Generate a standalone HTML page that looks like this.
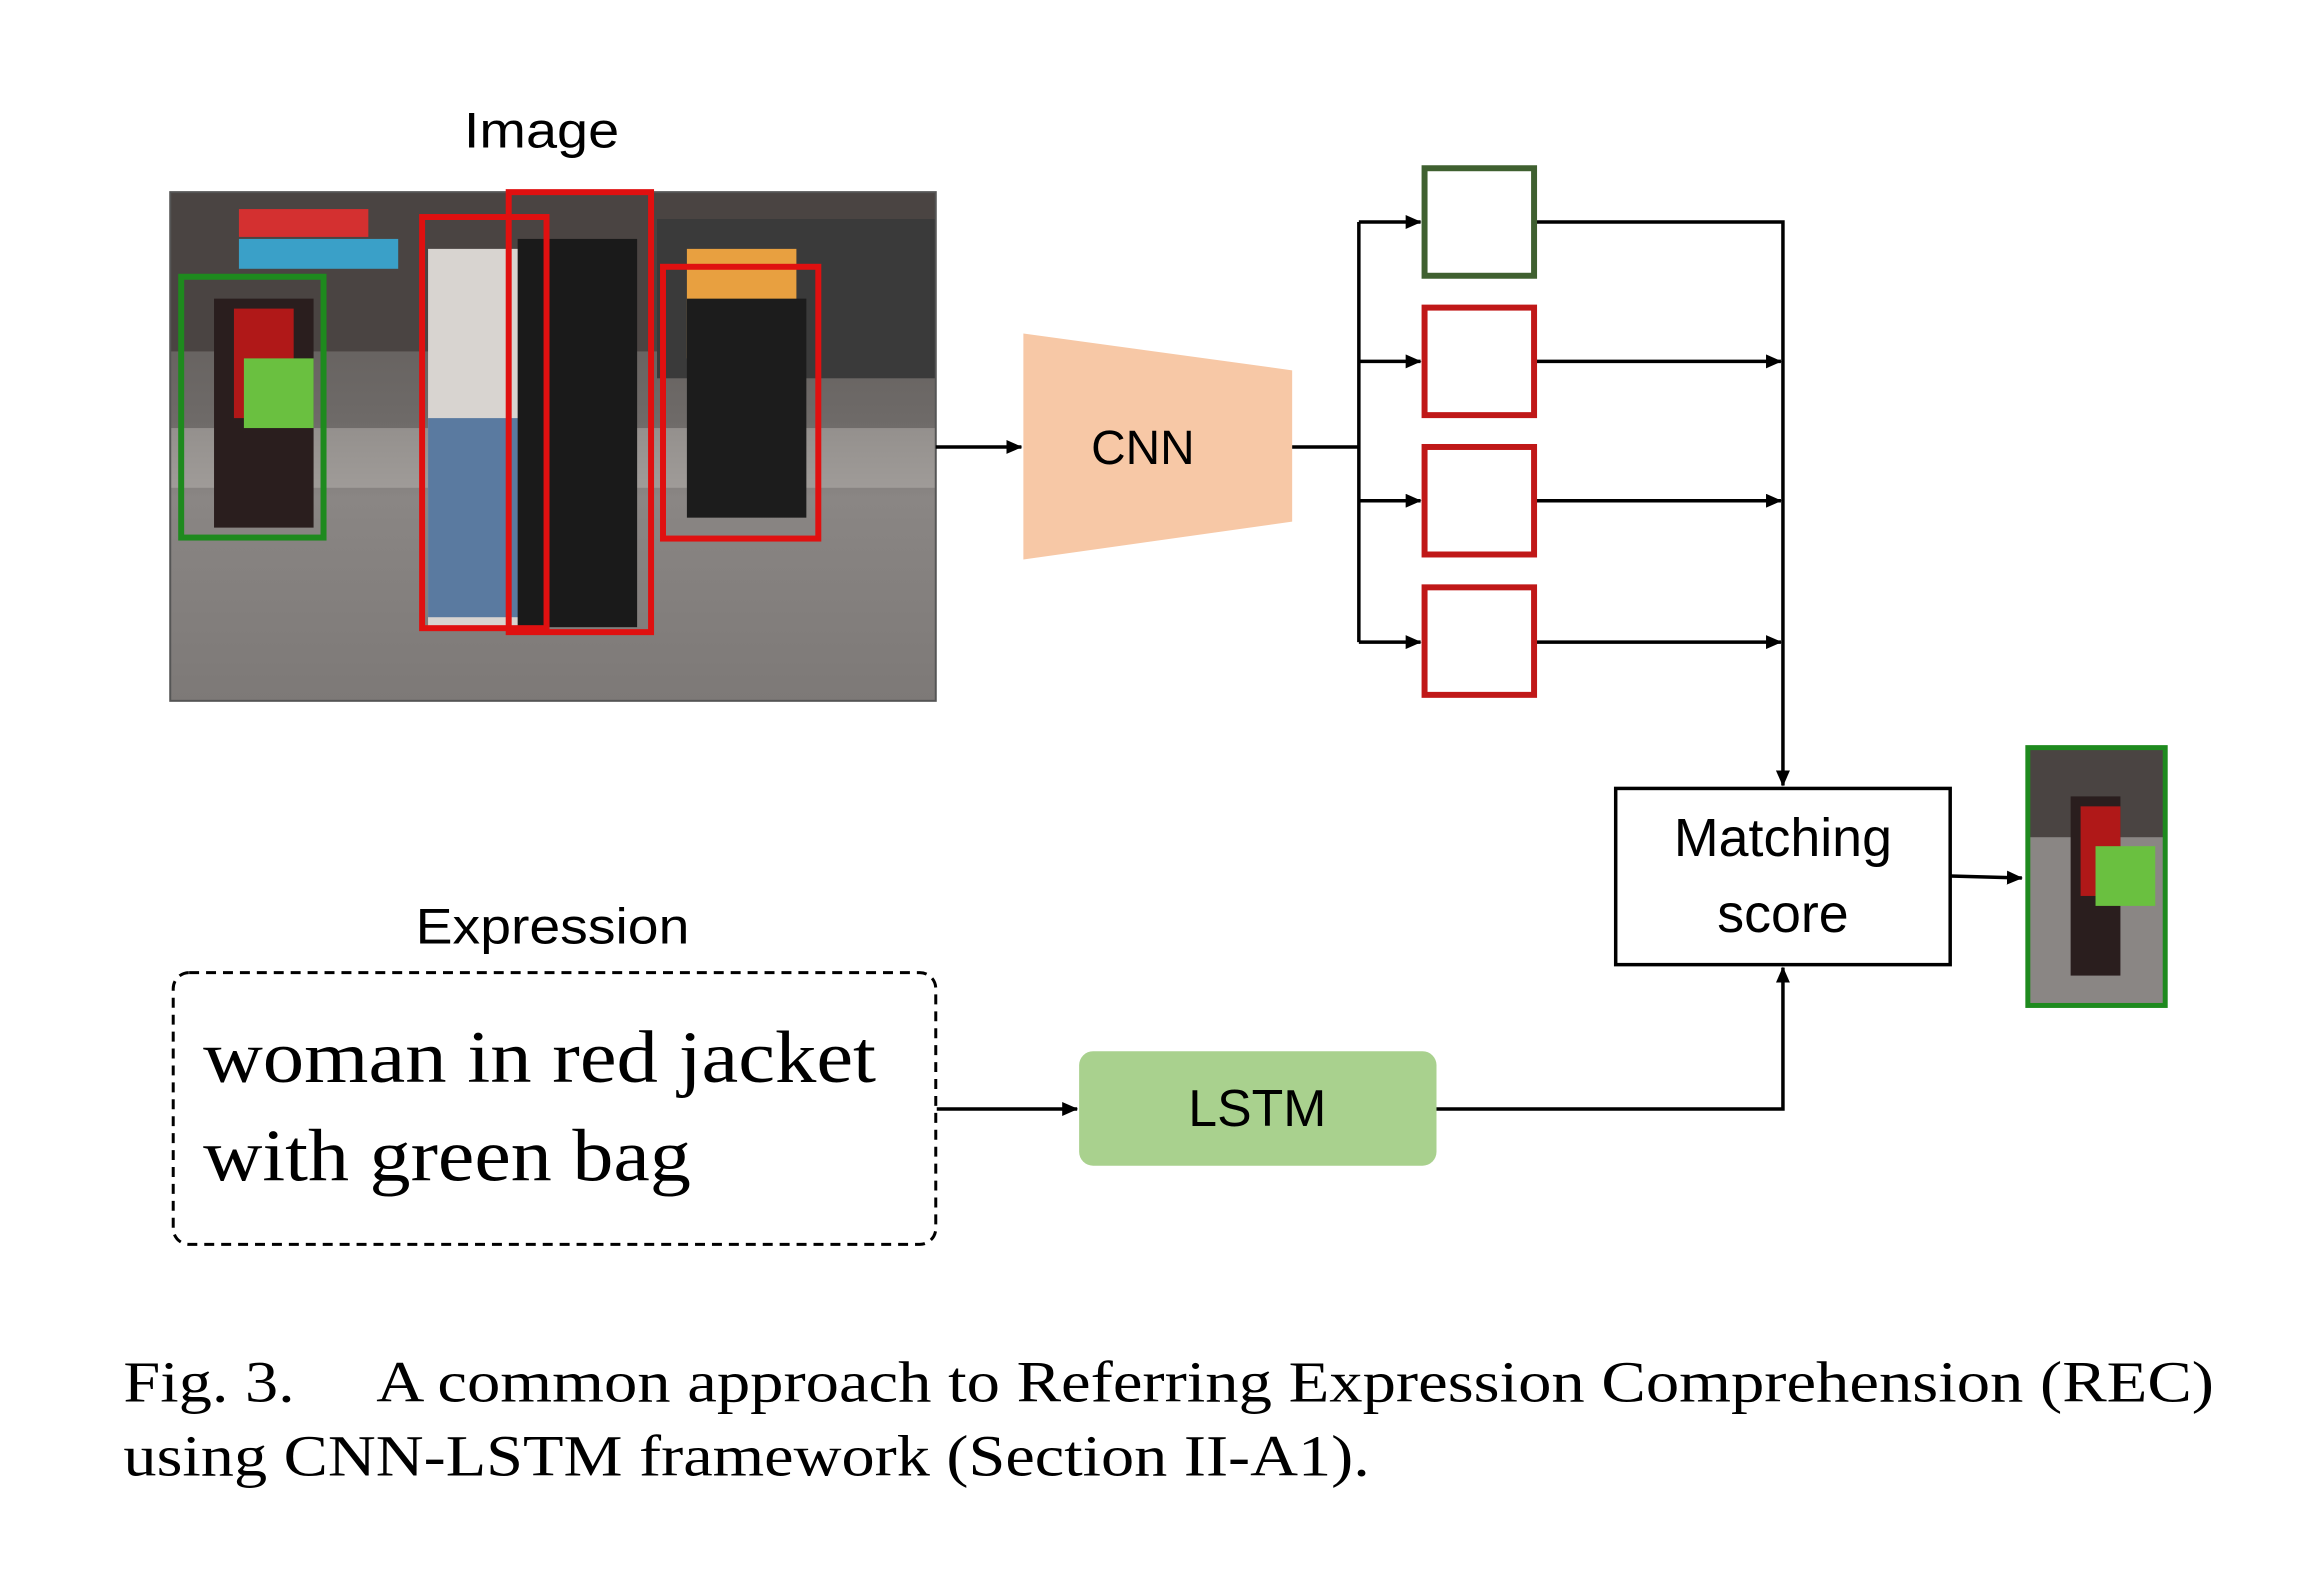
<!DOCTYPE html>
<html><head><meta charset="utf-8"><style>html,body{margin:0;padding:0;background:#fff}svg{display:block}</style></head>
<body>
<svg width="2301" height="1595" viewBox="0 0 2301 1595" xmlns="http://www.w3.org/2000/svg">
<defs>
<marker id="a" markerWidth="16" markerHeight="14" refX="15" refY="7" orient="auto" markerUnits="userSpaceOnUse">
<path d="M0,0 L16,7 L0,14 z" fill="#000"/></marker>
<linearGradient id="g" x1="0" y1="0" x2="0" y2="1">
<stop offset="0" stop-color="#5a5552"/><stop offset="0.45" stop-color="#6e6a68"/><stop offset="0.6" stop-color="#8a8684"/><stop offset="1" stop-color="#7d7977"/></linearGradient>
</defs>
<g font-family="Liberation Sans, sans-serif" fill="#000" transform="scale(0.9955)">
<text x="544" y="148" font-size="50" text-anchor="middle" textLength="156" lengthAdjust="spacingAndGlyphs">Image</text>
<rect x="171" y="193" width="769" height="511" fill="url(#g)"/>
<rect x="171" y="193" width="769" height="160" fill="#4a4442"/>
<rect x="240" y="240" width="160" height="30" fill="#3aa0c8"/>
<rect x="240" y="210" width="130" height="28" fill="#d43030"/>
<rect x="660" y="220" width="280" height="160" fill="#3a3a3a"/>
<rect x="690" y="250" width="110" height="110" fill="#e8a040"/>
<rect x="171" y="430" width="769" height="60" fill="#b8b4b0" opacity="0.5"/>
<rect x="215" y="300" width="100" height="230" fill="#2a1e1e"/>
<rect x="235" y="310" width="60" height="110" fill="#b01818"/>
<rect x="245" y="360" width="70" height="70" fill="#6ac040"/>
<rect x="430" y="250" width="100" height="380" fill="#d8d4d0"/>
<rect x="430" y="420" width="100" height="200" fill="#5a7aa0"/>
<rect x="520" y="240" width="120" height="390" fill="#1a1a1a"/>
<rect x="690" y="300" width="120" height="220" fill="#1c1c1c"/>
<rect x="171" y="193" width="769" height="511" fill="none" stroke="#555" stroke-width="2"/>
<g fill="none" stroke-width="6">
<rect x="182" y="278" width="143" height="262" stroke="#1e8a1e"/>
<rect x="424" y="218" width="125" height="413" stroke="#e01010"/>
<rect x="511" y="193" width="143" height="442" stroke="#e01010"/>
<rect x="666" y="268" width="156" height="273" stroke="#e01010"/>
</g>
<polygon points="1028,335 1298,372 1298,524 1028,562" fill="#f7c8a6"/>
<text x="1148" y="466" font-size="48" text-anchor="middle">CNN</text>
<g stroke="#000" stroke-width="3.5" fill="none">
<line x1="940" y1="449" x2="1026" y2="449" marker-end="url(#a)"/>
<polyline points="1298,449 1365,449"/>
<line x1="1365" y1="223" x2="1365" y2="645"/>
<line x1="1365" y1="223" x2="1427" y2="223" marker-end="url(#a)"/>
<line x1="1365" y1="363" x2="1427" y2="363" marker-end="url(#a)"/>
<line x1="1365" y1="503" x2="1427" y2="503" marker-end="url(#a)"/>
<line x1="1365" y1="645" x2="1427" y2="645" marker-end="url(#a)"/>
<polyline points="1543,223 1791,223 1791,789" marker-end="url(#a)"/>
<line x1="1543" y1="363" x2="1789" y2="363" marker-end="url(#a)"/>
<line x1="1543" y1="503" x2="1789" y2="503" marker-end="url(#a)"/>
<line x1="1543" y1="645" x2="1789" y2="645" marker-end="url(#a)"/>
<line x1="1959" y1="880" x2="2031" y2="882" marker-end="url(#a)"/>
<line x1="941" y1="1114" x2="1082" y2="1114" marker-end="url(#a)"/>
<polyline points="1443,1114 1791,1114 1791,972" marker-end="url(#a)"/>
</g>
<g fill="#fff" stroke-width="6">
<rect x="1431" y="169" width="110" height="108" stroke="#3f6030"/>
<rect x="1431" y="309" width="110" height="108" stroke="#c01818"/>
<rect x="1431" y="449" width="110" height="108" stroke="#c01818"/>
<rect x="1431" y="590" width="110" height="108" stroke="#c01818"/>
</g>
<rect x="1623" y="792" width="336" height="177" fill="#fff" stroke="#000" stroke-width="3.5"/>
<text x="1791" y="860" font-size="54" text-anchor="middle">Matching</text>
<text x="1791" y="936" font-size="54" text-anchor="middle">score</text>
<rect x="2037" y="751" width="138" height="259" fill="#8a8684"/>
<rect x="2037" y="751" width="138" height="90" fill="#4a4442"/>
<rect x="2080" y="800" width="50" height="180" fill="#2a1e1e"/>
<rect x="2090" y="810" width="40" height="90" fill="#b01818"/>
<rect x="2105" y="850" width="60" height="60" fill="#6ac040"/>
<rect x="2037" y="751" width="138" height="259" fill="none" stroke="#1e8a1e" stroke-width="5"/>
<text x="555" y="948" font-size="50" text-anchor="middle" textLength="275" lengthAdjust="spacingAndGlyphs">Expression</text>
<rect x="174" y="977" width="766" height="273" rx="16" fill="none" stroke="#000" stroke-width="3" stroke-dasharray="10,7"/>
<g font-family="Liberation Serif, serif" font-size="74">
<text x="204" y="1087" textLength="676" lengthAdjust="spacingAndGlyphs">woman in red jacket</text>
<text x="204" y="1186" textLength="490" lengthAdjust="spacingAndGlyphs">with green bag</text>
</g>
<rect x="1084" y="1056" width="359" height="115" rx="14" fill="#a9d18e"/>
<text x="1263" y="1131" font-size="52" text-anchor="middle">LSTM</text>
<g font-family="Liberation Serif, serif" font-size="59">
<text x="124" y="1408" textLength="172" lengthAdjust="spacingAndGlyphs">Fig. 3.</text>
<text x="378" y="1408" textLength="1846" lengthAdjust="spacingAndGlyphs">A common approach to Referring Expression Comprehension (REC)</text>
<text x="124" y="1482" textLength="1252" lengthAdjust="spacingAndGlyphs">using CNN-LSTM framework (Section II-A1).</text>
</g>
</g>
</svg>
</body></html>
